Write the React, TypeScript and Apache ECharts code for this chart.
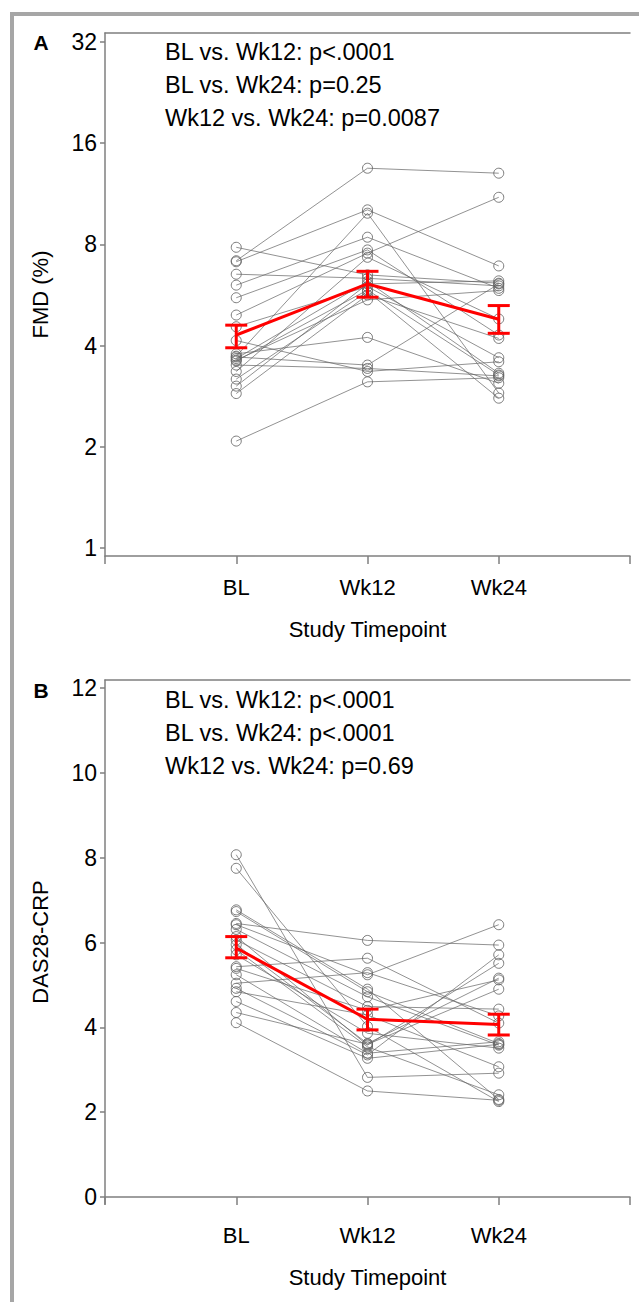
import React, { useEffect, useRef } from "react";
import * as echarts from "echarts";

// ---------- data ----------
const timepoints = ["BL", "Wk12", "Wk24"];

// Panel A: FMD (%) per subject
const fmdBL = [7.84, 7.15, 7.1, 6.52, 6.05, 5.55, 4.93, 4.55, 4.14, 3.78, 3.72, 3.66, 3.6, 3.5, 3.35, 3.18, 3.03, 2.88, 2.08, 3.7, 3.62];
const fmdWk12 = [6.49, 13.47, 10.13, 6.34, 8.4, 7.7, 7.53, 5.99, 3.35, 4.23, 9.9, 6.2, 5.85, 3.42, 7.32, 5.79, 6.1, 5.66, 3.12, 3.5, 5.47];
const fmdWk24 = [6.13, 13.02, 6.9, 6.02, 5.92, 4.3, 11.04, 3.68, 3.58, 3.09, 2.89, 3.31, 3.27, 3.25, 4.8, 2.79, 6.23, 4.2, 3.21, 6.1, 5.83];
const fmdMean = [4.3, 6.1, 4.79];
const fmdLow = [3.94, 5.57, 4.35];
const fmdHigh = [4.6, 6.65, 5.26];
const fmdTicks = [1, 2, 4, 8, 16, 32];
const fmdPvals = ["BL vs. Wk12: p<.0001", "BL vs. Wk24: p=0.25", "Wk12 vs. Wk24: p=0.0087"];

// Panel B: DAS28-CRP per subject
const dasBL = [8.07, 7.75, 6.77, 6.73, 6.45, 6.42, 6.31, 6.14, 6.06, 5.95, 5.83, 5.71, 5.43, 5.39, 5.24, 5.04, 4.92, 4.84, 4.61, 4.35, 4.11];
const dasWk12 = [2.82, 4.02, 4.9, 4.84, 6.05, 5.24, 4.72, 3.58, 4.49, 3.62, 3.54, 3.86, 5.63, 4.4, 3.39, 5.29, 3.35, 4.29, 3.27, 3.6, 2.5];
const dasWk24 = [2.92, 2.25, 2.3, 3.62, 5.94, 6.42, 3.58, 5.51, 4.43, 5.16, 2.41, 3.51, 4.1, 5.12, 3.66, 4.27, 5.71, 3.07, 3.6, 4.9, 2.28];
const dasMean = [5.87, 4.19, 4.07];
const dasLow = [5.64, 3.94, 3.82];
const dasHigh = [6.14, 4.43, 4.31];
const dasTicks = [0, 2, 4, 6, 8, 10, 12];
const dasPvals = ["BL vs. Wk12: p<.0001", "BL vs. Wk24: p<.0001", "Wk12 vs. Wk24: p=0.69"];

// ---------- styling ----------
const FONT = "'Liberation Sans', Arial, Helvetica, sans-serif";
const AXIS_COLOR = "#7f7f7f";
const FS = 22;
const FS_P = 23.5;
const FS_TICK = 23;

function subjectSeries(bl: number[], w12: number[], w24: number[], idx: number) {
  return bl.map((_, i) => ({
    type: "line",
    xAxisIndex: idx * 2,
    yAxisIndex: idx,
    data: [
      [1, bl[i]],
      [2, w12[i]],
      [3, w24[i]],
    ],
    symbol: "circle",
    symbolSize: 10,
    showSymbol: true,
    lineStyle: { color: "rgba(100,100,100,0.7)", width: 1 },
    itemStyle: { color: "rgba(255,255,255,0)", borderColor: "rgba(100,100,100,0.85)", borderWidth: 1 },
    emphasis: { disabled: true },
    silent: true,
    z: 2,
  }));
}

function meanSeries(mean: number[], idx: number) {
  return {
    type: "line",
    xAxisIndex: idx * 2,
    yAxisIndex: idx,
    data: mean.map((m, i) => [i + 1, m]),
    symbol: "none",
    lineStyle: { color: "#ff0000", width: 3 },
    silent: true,
    z: 5,
  };
}

function errorSeries(low: number[], high: number[], idx: number) {
  return {
    type: "custom",
    xAxisIndex: idx * 2,
    yAxisIndex: idx,
    data: low.map((l, i) => [i + 1, l, high[i]]),
    renderItem: (params: any, api: any) => {
      const x = api.value(0);
      const lo = api.coord([x, api.value(1)]);
      const hi = api.coord([x, api.value(2)]);
      const hw = 11;
      const st = { stroke: "#ff0000", lineWidth: 3 };
      return {
        type: "group",
        children: [
          { type: "line", shape: { x1: lo[0], y1: lo[1], x2: hi[0], y2: hi[1] }, style: st },
          { type: "line", shape: { x1: lo[0] - hw, y1: lo[1], x2: lo[0] + hw, y2: lo[1] }, style: st },
          { type: "line", shape: { x1: hi[0] - hw, y1: hi[1], x2: hi[0] + hw, y2: hi[1] }, style: st },
        ],
      };
    },
    silent: true,
    z: 6,
  };
}

function bottomXAxis(gridIndex: number) {
  return {
    type: "value",
    gridIndex,
    min: 0,
    max: 4,
    interval: 1,
    position: "bottom",
    name: "Study Timepoint",
    nameLocation: "middle",
    nameGap: 62,
    nameTextStyle: { color: "#000", fontSize: FS, fontFamily: FONT },
    axisLine: { show: true, lineStyle: { color: AXIS_COLOR, width: 1.5 } },
    axisTick: { show: true, length: 8, lineStyle: { color: AXIS_COLOR, width: 1.5 } },
    axisLabel: {
      color: "#000",
      fontSize: FS,
      fontFamily: FONT,
      margin: 20,
      formatter: (v: number) => timepoints[v - 1] || "",
    },
    splitLine: { show: false },
  };
}

function topXAxis(gridIndex: number) {
  return {
    type: "value",
    gridIndex,
    min: 0,
    max: 4,
    position: "top",
    axisLine: { show: true, onZero: false, lineStyle: { color: AXIS_COLOR, width: 1.5 } },
    axisTick: { show: false },
    axisLabel: { show: false },
    splitLine: { show: false },
  };
}

export default function App() {
  const ref = useRef<HTMLDivElement>(null);

  useEffect(() => {
    if (!ref.current) return;
    const chart = echarts.init(ref.current, undefined, { renderer: "svg" });

    const pText = (lines: string[], y0: number) =>
      lines.map((t, i) => ({
        type: "text",
        x: 165,
        y: y0 + i * 33,
        style: { text: t, fill: "#000", fontSize: FS_P, fontFamily: FONT, verticalAlign: "middle", align: "left" },
        silent: true,
      }));

    const option: any = {
      animation: false,
      backgroundColor: "#fff",
      grid: [
        { left: 105, top: 33, width: 525, height: 523 },
        { left: 105, top: 680, width: 525, height: 524 },
      ],
      xAxis: [bottomXAxis(0), topXAxis(0), bottomXAxis(1), topXAxis(1)],
      yAxis: [
        {
          type: "log",
          logBase: 2,
          gridIndex: 0,
          min: 0.947,
          max: 34.0,
          name: "FMD (%)",
          nameLocation: "middle",
          nameRotate: 90,
          nameGap: 54,
          nameTextStyle: { color: "#000", fontSize: FS, fontFamily: FONT },
          axisLine: { show: true, onZero: false, lineStyle: { color: AXIS_COLOR, width: 1.5 } },
          axisTick: { show: true, length: 5, customValues: fmdTicks, lineStyle: { color: AXIS_COLOR, width: 1.5 } },
          axisLabel: { color: "#000", fontSize: FS_TICK, fontFamily: FONT, margin: 8, customValues: fmdTicks },
          splitLine: { show: false },
          minorTick: { show: false },
        },
        {
          type: "value",
          gridIndex: 1,
          min: -0.165,
          max: 12.19,
          name: "DAS28-CRP",
          nameLocation: "middle",
          nameRotate: 90,
          nameGap: 54,
          nameTextStyle: { color: "#000", fontSize: FS, fontFamily: FONT },
          axisLine: { show: true, onZero: false, lineStyle: { color: AXIS_COLOR, width: 1.5 } },
          axisTick: { show: true, length: 5, customValues: dasTicks, lineStyle: { color: AXIS_COLOR, width: 1.5 } },
          axisLabel: { color: "#000", fontSize: FS_TICK, fontFamily: FONT, margin: 8, customValues: dasTicks },
          splitLine: { show: false },
        },
      ],
      graphic: [
        { type: "rect", shape: { x: 10, y: 12, width: 629, height: 4 }, style: { fill: "#a6a6a6" }, silent: true },
        { type: "rect", shape: { x: 10, y: 12, width: 4, height: 1290 }, style: { fill: "#a6a6a6" }, silent: true },
        {
          type: "text",
          x: 41,
          y: 42,
          style: { text: "A", fill: "#000", fontSize: 21, fontWeight: "bold", fontFamily: FONT, verticalAlign: "middle", align: "center" },
          silent: true,
        },
        {
          type: "text",
          x: 41,
          y: 690,
          style: { text: "B", fill: "#000", fontSize: 21, fontWeight: "bold", fontFamily: FONT, verticalAlign: "middle", align: "center" },
          silent: true,
        },
        ...pText(fmdPvals, 52),
        ...pText(dasPvals, 700),
      ],
      series: [
        ...subjectSeries(fmdBL, fmdWk12, fmdWk24, 0),
        meanSeries(fmdMean, 0),
        errorSeries(fmdLow, fmdHigh, 0),
        ...subjectSeries(dasBL, dasWk12, dasWk24, 1),
        meanSeries(dasMean, 1),
        errorSeries(dasLow, dasHigh, 1),
      ],
    };

    chart.setOption(option);
    return () => chart.dispose();
  }, []);

  return (
    <div
      ref={ref}
      style={{ position: "absolute", left: 0, top: 0, width: 639, height: 1302, background: "#fff" }}
    />
  );
}
